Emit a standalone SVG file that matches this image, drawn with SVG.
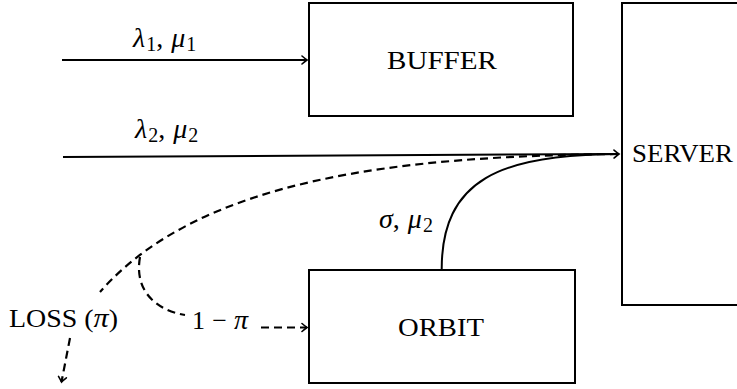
<svg xmlns="http://www.w3.org/2000/svg" width="737" height="389" viewBox="0 0 737 389">
<defs>
<style>
.box{fill:none;stroke:#000;stroke-width:2}
.ln{fill:none;stroke:#000;stroke-width:2}
.dash{stroke-dasharray:8 5;stroke-width:2.2}
.t{font-family:"Liberation Serif",serif;font-size:26px;fill:#000}
.m{font-family:"Liberation Serif",serif;font-size:28px;font-style:italic;fill:#000}
.sub{font-size:20px;font-style:normal}
.up{font-style:normal}
</style>
<marker id="arr" markerUnits="userSpaceOnUse" markerWidth="12" markerHeight="12" viewBox="-6 -6 12 12" refX="0" refY="0" orient="auto">
<path d="M-5,-4 Q-1.5,-1 0,0 Q-1.5,1 -5,4" fill="none" stroke="#000" stroke-width="1.6" stroke-linecap="round"/>
</marker>
</defs>
<rect width="737" height="389" fill="#fff"/>
<g id="buffer">
<rect class="box" x="309" y="3" width="264" height="113"/>
<text class="t" x="387" y="69" textLength="110" lengthAdjust="spacingAndGlyphs">BUFFER</text>
</g>
<g id="server">
<rect class="box" x="622" y="3" width="140" height="302"/>
<text class="t" x="632" y="162" textLength="101" lengthAdjust="spacingAndGlyphs">SERVER</text>
</g>
<g id="orbit">
<rect class="box" x="309" y="270" width="266" height="113"/>
<text class="t" x="398" y="336" textLength="86" lengthAdjust="spacingAndGlyphs">ORBIT</text>
</g>
<g id="loss">
<text class="t" x="9" y="327" textLength="109" lengthAdjust="spacingAndGlyphs">LOSS (<tspan class="m">π</tspan>)</text>
</g>
<g id="connectors">
<path class="ln" d="M62,60 L307,60" marker-end="url(#arr)"/>
<path class="ln" d="M63,157 L619,154" marker-end="url(#arr)"/>
<path class="ln" d="M441.7,269 C441.7,180 500,154 619,154"/>
<path class="ln dash" d="M618,154 C400,156 200,178 100,292"/>
<path class="ln dash" d="M140,257 C134,290 155,310 185,315"/>
<path class="ln dash" d="M261,327.5 L307,327.5" stroke-dasharray="2 5 8 5" marker-end="url(#arr)"/>
<path class="ln dash" d="M70,338 L61.5,382" marker-end="url(#arr)"/>
<text class="m" x="133" y="47">λ<tspan class="sub" dy="4" dx="1">1</tspan><tspan dy="-4" class="up">,</tspan><tspan dx="8">μ</tspan><tspan class="sub" dy="4" dx="1">1</tspan></text>
<text class="m" x="135" y="138">λ<tspan class="sub" dy="4" dx="1">2</tspan><tspan dy="-4" class="up">,</tspan><tspan dx="8">μ</tspan><tspan class="sub" dy="4" dx="1">2</tspan></text>
<text class="m" x="379" y="228">σ<tspan class="up">,</tspan><tspan dx="8">μ</tspan><tspan class="sub" dy="4" dx="1">2</tspan></text>
<text class="t" x="192" y="329" textLength="56" lengthAdjust="spacing">1 − <tspan class="m">π</tspan></text>
</g>
</svg>
